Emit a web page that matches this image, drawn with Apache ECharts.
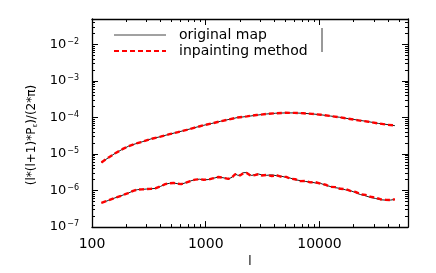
<!DOCTYPE html>
<html>
<head>
<meta charset="utf-8">
<script src="https://cdn.jsdelivr.net/npm/echarts@6/dist/echarts.min.js"></script>
<style>html,body{margin:0;padding:0;background:#fff;}#c{width:436px;height:273px;}</style>
</head>
<body>
<div id="c"></div>
<script>
// ---- data ----
const upperL = [121,140,160,185,210,240,280,330,400,480,570,680,800,950,1130,1350,1600,1900,2300,2800,3400,4100,5000,6000,7200,8600,10300,12500,15000,18000,22000,27000,33000,40000,46000];
const upperOrig = [5.9e-6,8.0e-6,1.05e-5,1.35e-5,1.65e-5,1.9e-5,2.2e-5,2.6e-5,3.0e-5,3.5e-5,4.0e-5,4.6e-5,5.3e-5,6.1e-5,6.9e-5,7.9e-5,8.9e-5,1.0e-4,1.07e-4,1.16e-4,1.25e-4,1.31e-4,1.34e-4,1.34e-4,1.31e-4,1.26e-4,1.19e-4,1.10e-4,1.02e-4,9.3e-5,8.5e-5,7.7e-5,6.9e-5,6.4e-5,6.0e-5];
const upperInp = [5.9e-6,8.1e-6,1.05e-5,1.36e-5,1.65e-5,1.92e-5,2.2e-5,2.6e-5,3.0e-5,3.5e-5,4.0e-5,4.6e-5,5.3e-5,6.1e-5,6.9e-5,7.9e-5,8.9e-5,1.0e-4,1.08e-4,1.17e-4,1.25e-4,1.31e-4,1.35e-4,1.34e-4,1.31e-4,1.26e-4,1.19e-4,1.10e-4,1.02e-4,9.3e-5,8.4e-5,7.7e-5,6.9e-5,6.3e-5,6.1e-5];

const lowerL = [121,140,159,180,208,230,250,275,300,330,360,400,440,480,520,560,610,670,740,810,880,960,1050,1150,1290,1420,1580,1700,1810,1900,2000,2140,2290,2420,2540,2700,2900,3100,3440,3800,4220,4680,5100,5530,6100,6770,7500,8290,9200,10200,11300,12400,13800,15200,16900,18700,20700,22900,25400,28000,31000,34300,38000,42000,46000];
const lowerOrig = [4.6e-7,5.4e-7,6.3e-7,7.2e-7,8.5e-7,9.8e-7,1.06e-6,1.08e-6,1.1e-6,1.12e-6,1.15e-6,1.3e-6,1.5e-6,1.58e-6,1.62e-6,1.55e-6,1.5e-6,1.65e-6,1.85e-6,2.0e-6,2.05e-6,1.98e-6,2.0e-6,2.15e-6,2.35e-6,2.25e-6,2.1e-6,2.3e-6,2.85e-6,2.65e-6,2.6e-6,3.1e-6,3.1e-6,2.75e-6,2.6e-6,2.75e-6,2.85e-6,2.7e-6,2.62e-6,2.7e-6,2.55e-6,2.45e-6,2.3e-6,2.2e-6,1.98e-6,1.88e-6,1.78e-6,1.72e-6,1.62e-6,1.58e-6,1.4e-6,1.3e-6,1.2e-6,1.15e-6,1.05e-6,1.0e-6,8.8e-7,7.8e-7,7.2e-7,6.5e-7,6.1e-7,5.6e-7,5.5e-7,5.5e-7,5.7e-7];
const lowerInp = [4.6e-7,5.4e-7,6.3e-7,7.2e-7,8.5e-7,9.8e-7,1.06e-6,1.08e-6,1.1e-6,1.12e-6,1.15e-6,1.3e-6,1.5e-6,1.58e-6,1.62e-6,1.55e-6,1.5e-6,1.65e-6,1.85e-6,2.0e-6,2.05e-6,1.98e-6,2.0e-6,2.15e-6,2.35e-6,2.25e-6,2.1e-6,2.3e-6,2.8e-6,2.7e-6,2.6e-6,3.0e-6,3.05e-6,2.7e-6,2.55e-6,2.65e-6,2.8e-6,2.6e-6,2.68e-6,2.5e-6,2.62e-6,2.35e-6,2.38e-6,2.12e-6,2.05e-6,1.82e-6,1.84e-6,1.68e-6,1.7e-6,1.55e-6,1.45e-6,1.27e-6,1.24e-6,1.12e-6,1.1e-6,0.98e-6,9.2e-7,8.0e-7,7.6e-7,6.8e-7,6.4e-7,5.8e-7,5.6e-7,5.5e-7,5.8e-7];

const xMajor = [100,1000,10000];
const xLabels = ['100','1000','10000'];
const yMajor = [1e-7,1e-6,1e-5,1e-4,1e-3,1e-2];
const yExp = ['−7','−6','−5','−4','−3','−2'];
const seriesNames = ['original map','inpainting method'];

// minor tick positions (2..9 per decade)
const xMinor = [], yMinor = [];
for (let k = 2; k <= 4; k++) for (let m = 2; m <= 9; m++) { const v = m * Math.pow(10, k); if (v <= 60000) xMinor.push(v); }
for (let k = -7; k <= -2; k++) for (let m = 2; m <= 9; m++) { const v = m * Math.pow(10, k); if (v <= 0.05) yMinor.push(+v.toPrecision(3)); }

const X_MIN = 100, X_MAX = 60000, Y_MIN = 1e-7, Y_MAX = 0.05;
const FONT = 'DejaVu Sans';

function xAx(pos, major, labels) {
  return {
    type: 'log', min: X_MIN, max: X_MAX, position: pos,
    axisLine: { show: major, lineStyle: { color: '#000', width: 1.3 } },
    axisTick: { inside: true, length: major ? 6 : 3, lineStyle: { color: '#000', width: 1 }, customValues: major ? xMajor : xMinor },
    axisLabel: labels ? { show: true, customValues: xMajor, margin: 10, color: '#000', fontFamily: FONT, fontSize: 14,
      formatter: v => xLabels[xMajor.indexOf(+v)] ?? '' } : { show: false },
    splitLine: { show: false }, minorTick: { show: false },
    name: labels ? 'l' : '', nameLocation: 'middle', nameGap: 22,
    nameTextStyle: { color: '#000', fontFamily: FONT, fontSize: 12 }
  };
}
function yAx(pos, major, labels) {
  return {
    type: 'log', min: Y_MIN, max: Y_MAX, position: pos,
    axisLine: { show: major, lineStyle: { color: '#000', width: 1.3 } },
    axisTick: { inside: true, length: major ? 6 : 3, lineStyle: { color: '#000', width: 1 }, customValues: major ? yMajor : yMinor },
    axisLabel: labels ? { show: true, customValues: yMajor, margin: 13, color: '#000',
      formatter: v => { let i = -1; yMajor.forEach((t, j) => { if (Math.abs(Math.log10(t) - Math.log10(v)) < 1e-6) i = j; }); return i < 0 ? '' : '{b|10}{s|' + yExp[i] + '}'; },
      rich: { b: { fontFamily: FONT, fontSize: 13, color: '#000', lineHeight: 14 },
              s: { fontFamily: FONT, fontSize: 8, color: '#000', verticalAlign: 'top', lineHeight: 8, padding: [0, 0, 6, 1] } } } : { show: false },
    splitLine: { show: false }, minorTick: { show: false },
    name: labels ? '(l*(l+1)*P{sub|ε})/(2*π)' : '', nameLocation: 'middle', nameGap: 52,
    nameTextStyle: { color: '#000', fontFamily: FONT, fontSize: 12, padding: [0, 24, 0, 0],
      rich: { sub: { fontFamily: FONT, fontSize: 7, color: '#000', verticalAlign: 'bottom', padding: [6, 0, 0, 0] } } }
  };
}

const pair = (L, V) => L.map((l, i) => [l, V[i]]);
const blackStyle = { color: '#000', width: 0.9 };
const redStyle = { color: '#ff0000', width: 2.4, type: [5, 3] };

const option = {
  animation: false,
  backgroundColor: '#fff',
  grid: { left: 92, right: 28, top: 19, bottom: 40 },
  xAxis: [xAx('bottom', true, true), xAx('bottom', false, false), xAx('top', true, false), xAx('top', false, false)],
  yAxis: [yAx('left', true, true), yAx('left', false, false), yAx('right', true, false), yAx('right', false, false)],
  legend: {
    data: [{ name: seriesNames[0], lineStyle: { width: 1, color: '#444' } }, { name: seriesNames[1] }],
    orient: 'vertical', left: 113, top: 28, itemWidth: 52, itemHeight: 8, itemGap: 2, padding: 0,
    selectedMode: false,
    itemStyle: { color: 'rgba(0,0,0,0)', borderColor: 'rgba(0,0,0,0)', borderWidth: 0 },
    textStyle: { fontFamily: FONT, fontSize: 14, color: '#000', lineHeight: 10, padding: [0, 0, 0, 8] }
  },
  graphic: [{ type: 'line', shape: { x1: 322, y1: 28, x2: 322, y2: 52 }, style: { stroke: '#000', lineWidth: 0.8 } }],
  series: [
    { name: seriesNames[0], type: 'line', data: pair(upperL, upperOrig), showSymbol: false, symbol: 'circle', lineStyle: blackStyle, itemStyle: { color: '#000' } },
    { name: seriesNames[0], type: 'line', data: pair(lowerL, lowerOrig), showSymbol: false, symbol: 'circle', lineStyle: blackStyle, itemStyle: { color: '#000' } },
    { name: seriesNames[1], type: 'line', data: pair(upperL, upperInp), showSymbol: false, symbol: 'circle', lineStyle: redStyle, itemStyle: { color: '#ff0000' } },
    { name: seriesNames[1], type: 'line', data: pair(lowerL, lowerInp), showSymbol: false, symbol: 'circle', lineStyle: redStyle, itemStyle: { color: '#ff0000' } }
  ]
};
echarts.init(document.getElementById('c'), null, { renderer: 'canvas' }).setOption(option);
</script>
</body>
</html>
